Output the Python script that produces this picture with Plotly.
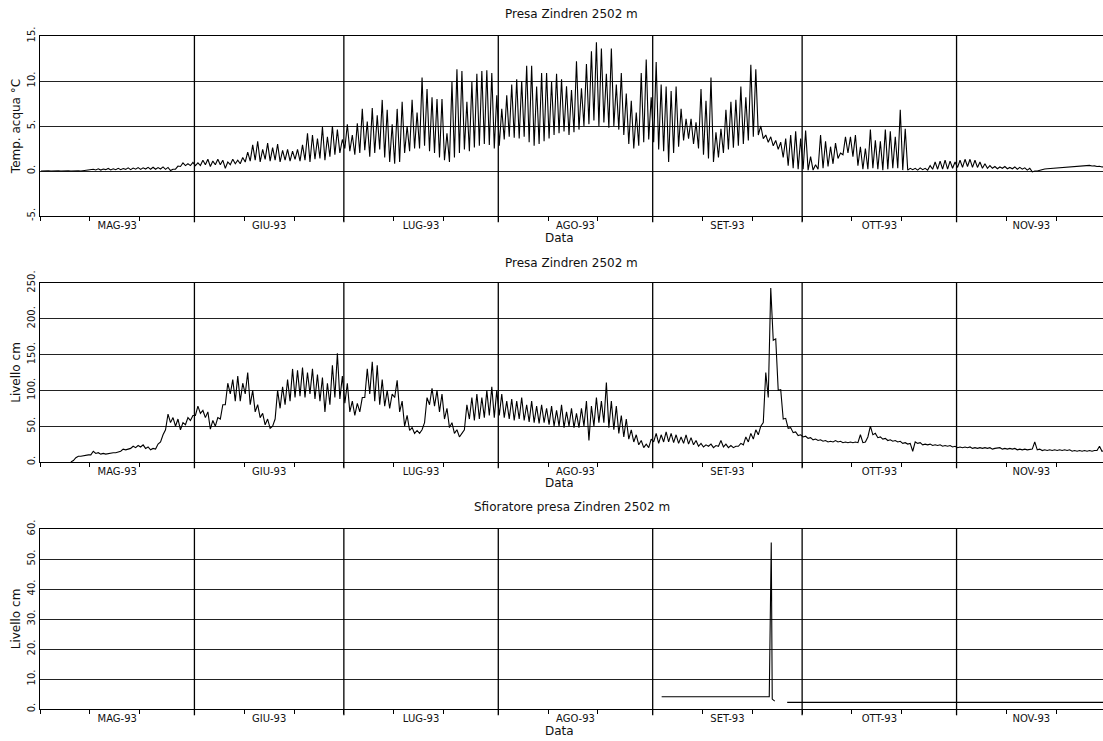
import plotly.graph_objects as go
from datetime import datetime, timedelta

# ---------------- data ----------------
start_date = "1993-05-01"
month_starts = ["1993-05-01", "1993-06-01", "1993-07-01", "1993-08-01",
                "1993-09-01", "1993-10-01", "1993-11-01", "1993-12-01"]
month_labels = ["MAG-93", "GIU-93", "LUG-93", "AGO-93", "SET-93", "OTT-93", "NOV-93"]

# Water temperature (°C): daily maximum and minimum, one value per day from 1 May
temp_max = [
    0.03, 0.03, 0.03, 0.03, 0.03, 0.03, 0.03, 0.03, 0.04, 0.05,
    0.20, 0.25, 0.22, 0.28, 0.25, 0.30, 0.28, 0.35, 0.32, 0.38,
    0.35, 0.40, 0.42, 0.38, 0.45, 0.40, 0.20, 0.55, 0.90, 0.80,
    0.95, 0.90, 1.20, 1.30, 1.10, 1.30, 1.20, 1.00, 1.30, 1.20,
    1.50, 2.10, 2.90, 3.30, 2.40, 3.10, 2.60, 3.00, 2.30, 2.40,
    2.20, 2.40, 2.90, 4.20, 4.00, 3.60, 4.90, 3.80, 5.00, 4.60,
    3.50, 5.20, 4.00, 5.30, 6.90, 5.50, 7.00, 6.20, 7.90, 6.80,
    5.20, 6.90, 7.70, 5.00, 7.90, 6.50, 10.4, 9.1, 8.2, 8.0,
    8.0, 4.2, 9.9, 11.3, 11.1, 7.7, 9.9, 10.8, 11.1, 11.2,
    10.9, 8.4, 6.9, 8.4, 9.6, 10.2, 10.0, 11.7, 11.7, 9.4,
    10.9, 10.9, 9.9, 10.8, 10.2, 9.4, 9.0, 12.2, 9.2, 11.9,
    13.3, 14.3, 13.6, 10.8, 13.6, 9.6, 10.9, 8.6, 7.8, 6.5,
    10.9, 12.4, 8.2, 12.1, 9.6, 9.4, 8.9, 9.4, 6.9, 5.8,
    5.8, 5.4, 9.1, 7.8, 10.4, 4.3, 4.7, 6.8, 7.7, 7.9,
    9.4, 8.2, 11.8, 11.3, 5.0, 4.0, 3.8, 3.4, 3.2, 3.6,
    4.0, 4.4, 3.6, 4.5, 1.6, 0.7, 4.0, 3.3, 2.7, 3.1,
    2.0, 3.8, 3.8, 4.0, 2.7, 2.5, 4.6, 3.4, 3.3, 4.6,
    4.4, 3.8, 6.8, 4.7, 0.3, 0.3, 0.35, 0.3, 0.6, 1.0,
    1.1, 1.2, 1.1, 1.0, 1.2, 1.3, 1.3, 1.2, 1.0, 0.8,
    0.6, 0.5, 0.45, 0.5, 0.4, 0.45, 0.4, 0.35, 0.3, 0.0,
    0.1, 0.22, 0.27, 0.32, 0.37, 0.42, 0.47, 0.52, 0.57, 0.57,
    0.62, 0.57, 0.52, 0.47,
]
temp_min = [
    0.0, 0.0, 0.0, 0.0, 0.0, 0.0, 0.0, 0.0, 0.0, 0.0,
    0.10, 0.12, 0.10, 0.15, 0.12, 0.15, 0.15, 0.18, 0.15, 0.20,
    0.18, 0.22, 0.20, 0.20, 0.22, 0.18, 0.05, 0.20, 0.50, 0.60,
    0.60, 0.60, 0.60, 0.70, 0.50, 0.70, 0.70, 0.30, 0.70, 0.80,
    0.80, 1.00, 1.10, 1.20, 1.00, 1.30, 1.10, 1.20, 1.00, 1.20,
    1.10, 1.30, 1.10, 1.20, 1.00, 1.30, 1.40, 1.20, 1.60, 1.80,
    2.00, 2.50, 2.20, 1.80, 2.00, 2.30, 1.60, 2.00, 2.40, 1.50,
    1.00, 0.80, 1.00, 2.00, 2.20, 2.50, 2.5, 2.8, 2.2, 2.0,
    1.5, 1.2, 1.0, 1.5, 2.0, 2.4, 2.2, 2.6, 2.8, 3.0,
    2.9, 2.5, 2.8, 3.5, 3.8, 3.7, 3.6, 3.8, 3.2, 2.8,
    3.0, 3.3, 3.6, 4.0, 4.2, 4.4, 4.0, 4.3, 4.6, 5.0,
    5.2, 5.6, 5.0, 5.4, 4.8, 5.0, 4.6, 4.0, 3.0, 2.5,
    2.8, 3.2, 3.5, 3.2, 2.4, 2.2, 1.0, 2.0, 2.7, 3.4,
    3.6, 3.0, 2.5, 1.8, 1.4, 1.0, 1.5, 2.0, 2.4, 2.6,
    2.8, 3.0, 3.4, 3.8, 4.0, 3.6, 3.2, 2.8, 2.4, 1.5,
    0.6, 0.3, 0.2, 0.2, 0.1, 0.1, 0.2, 0.3, 0.5, 0.8,
    1.4, 1.8, 2.0, 1.6, 0.6, 0.2, 0.2, 0.3, 0.2, 0.1,
    0.2, 0.3, 0.3, 0.1, 0.1, 0.15, 0.1, 0.15, 0.1, 0.2,
    0.2, 0.2, 0.2, 0.3, 0.4, 0.4, 0.5, 0.4, 0.4, 0.3,
    0.3, 0.3, 0.25, 0.3, 0.25, 0.25, 0.2, 0.2, 0.1, -0.1,
    0.0, 0.2, 0.25, 0.3, 0.35, 0.4, 0.45, 0.5, 0.55, 0.55,
    0.6, 0.55, 0.5, 0.45,
]

# Water level at the intake (cm): daily maximum and minimum (no record for the first days)
level_max = [
    None, None, None, None, None, None, 2, 8, 9, 10,
    15, 13, 12, 12, 13, 14, 18, 18, 22, 23,
    24, 21, 19, 25, 38, 67, 62, 60, 55, 62,
    65, 78, 72, 70, 58, 62, 80, 110, 115, 120,
    110, 125, 100, 80, 68, 60, 50, 100, 105, 115,
    130, 128, 132, 125, 130, 122, 118, 110, 135, 152,
    120, 110, 85, 82, 90, 130, 140, 135, 115, 100,
    95, 114, 85, 65, 48, 44, 45, 90, 103, 100,
    95, 75, 55, 45, 40, 80, 90, 95, 90, 100,
    105, 100, 95, 85, 88, 85, 90, 80, 85, 78,
    80, 75, 78, 72, 80, 70, 75, 68, 75, 85,
    78, 90, 85, 111, 85, 78, 65, 60, 45, 38,
    30, 25, 32, 40, 38, 42, 40, 38, 35, 38,
    34, 30, 26, 24, 25, 23, 30, 25, 23, 22,
    26, 35, 40, 45, 50, 125, 243, 172, 101, 61,
    48, 42, 38, 36, 34, 32, 31, 30, 29, 30,
    29, 28, 28, 28, 38, 28, 50, 40, 35, 33,
    31, 30, 29, 27, 26, 28, 27, 25, 25, 24,
    24, 23, 23, 22, 21, 21, 21, 20, 20, 20,
    20, 19, 20, 19, 19, 19, 18, 18, 18, 28,
    18, 17, 17, 17, 17, 17, 17, 16, 16, 16,
    16, 16, 22, 16,
]
level_min = [
    None, None, None, None, None, None, 0, 6, 8, 9,
    10, 12, 11, 11, 12, 13, 15, 17, 19, 20,
    21, 19, 17, 18, 28, 45, 55, 50, 45, 52,
    58, 65, 68, 62, 46, 50, 60, 80, 95, 85,
    85, 95, 80, 70, 62, 52, 47, 60, 75, 80,
    85, 90, 92, 90, 95, 88, 85, 70, 80, 90,
    88, 82, 70, 65, 70, 90, 95, 85, 80, 78,
    75, 90, 70, 50, 44, 40, 40, 55, 80, 78,
    70, 60, 48, 40, 35, 45, 60, 58, 60, 62,
    65, 62, 65, 62, 60, 58, 60, 58, 56, 55,
    54, 55, 52, 50, 50, 48, 50, 48, 48, 50,
    30, 50, 55, 55, 48, 45, 40, 35, 32, 28,
    24, 20, 20, 28, 26, 28, 28, 27, 26, 26,
    25, 24, 22, 21, 22, 20, 22, 21, 20, 20,
    22, 24, 28, 32, 38, 55, 90, 170, 100, 60,
    47, 41, 37, 35, 33, 31, 30, 29, 28, 28,
    28, 27, 27, 27, 27, 27, 35, 38, 34, 32,
    30, 29, 28, 26, 25, 15, 26, 24, 24, 23,
    23, 22, 22, 21, 20, 20, 20, 19, 19, 19,
    19, 18, 19, 18, 18, 18, 17, 17, 17, 18,
    17, 16, 16, 16, 16, 16, 16, 15, 15, 15,
    15, 15, 16, 15,
]

# Spillway level (cm): (day since 1 May, value); None marks a gap in the record
spill_day = [124.8, 146.4, 146.8, 147.0, 147.5, None, 150.0, 213.5]
spill_val = [4.1, 4.1, 55.5, 3.3, 2.6, None, 2.2, 2.2]

temp_ticks = [-5, 0, 5, 10, 15]
level_ticks = [0, 50, 100, 150, 200, 250]
spill_ticks = [0, 10, 20, 30, 40, 50, 60]

# ---------------- helpers ----------------
base = datetime.strptime(start_date, "%Y-%m-%d")


def to_date(d):
    return None if d is None else base + timedelta(days=d)


def zigzag(vmax, vmin):
    xs, ys = [], []
    for i, (hi, lo) in enumerate(zip(vmax, vmin)):
        if hi is None or lo is None:
            continue
        xs += [to_date(i + 0.2), to_date(i + 0.7)]
        ys += [lo, hi]
    return xs, ys


tx, ty = zigzag(temp_max, temp_min)
lx, ly = zigzag(level_max, level_min)
sx = [to_date(d) for d in spill_day]

ms = [datetime.strptime(m, "%Y-%m-%d") for m in month_starts]
mid_month = [a + (b - a) / 2 for a, b in zip(ms[:-1], ms[1:])]
minor_ticks = []
for m in ms[:-1]:
    for dd in (0, 10, 20):
        minor_ticks.append(m + timedelta(days=dd))

FONT = "DejaVu Sans"
INK = "#111111"
H = 741.0

fig = go.Figure()
line_style = dict(color="black", width=1.1)
fig.add_trace(go.Scatter(x=tx, y=ty, mode="lines", line=line_style, xaxis="x", yaxis="y",
                         showlegend=False))
fig.add_trace(go.Scatter(x=lx, y=ly, mode="lines", line=line_style, xaxis="x2", yaxis="y2",
                         showlegend=False))
fig.add_trace(go.Scatter(x=sx, y=spill_val, mode="lines", line=line_style, xaxis="x3", yaxis="y3",
                         showlegend=False, connectgaps=False))

x_range = [base, base + timedelta(days=213.4)]


def xaxis_cfg(anchor):
    return dict(
        anchor=anchor, domain=[0, 1], type="date", range=x_range, automargin=False,
        tickmode="array", tickvals=mid_month, ticktext=month_labels, ticks="",
        tickfont=dict(family=FONT, size=10, color=INK),
        showgrid=False, zeroline=False,
        showline=True, linecolor="black", linewidth=1, mirror=True,
        minor=dict(tickmode="array", tickvals=minor_ticks, ticks="outside",
                   ticklen=4, tickcolor="black", tickwidth=1, showgrid=False),
    )


def yaxis_cfg(anchor, top_px, bottom_px, rng, ticks, title):
    return dict(
        anchor=anchor, domain=[1 - bottom_px / H, 1 - top_px / H], range=rng, automargin=False,
        tickmode="array", tickvals=ticks, ticktext=[f"{t}." for t in ticks],
        tickangle=-90, ticks="", tickfont=dict(family=FONT, size=10, color=INK),
        showgrid=True, gridcolor="#222222", gridwidth=1, zeroline=False,
        showline=True, linecolor="black", linewidth=1,
        title=dict(text=title, font=dict(family=FONT, size=12, color=INK), standoff=2),
    )


layout = dict(
    width=1103, height=741,
    margin=dict(l=40, r=0, t=0, b=0, autoexpand=False),
    paper_bgcolor="white", plot_bgcolor="white",
    xaxis=xaxis_cfg("y"), xaxis2=xaxis_cfg("y2"), xaxis3=xaxis_cfg("y3"),
    yaxis=yaxis_cfg("x", 36, 216, [-5, 15], temp_ticks, "Temp. acqua °C"),
    yaxis2=yaxis_cfg("x2", 283, 462, [0, 250], level_ticks, "Livello cm"),
    yaxis3=yaxis_cfg("x3", 529, 709, [0, 60], spill_ticks, "Livello cm"),
)
fig.update_layout(**layout)

# month separators
shapes = []
for xr, yr in (("x", "y domain"), ("x2", "y2 domain"), ("x3", "y3 domain")):
    for m in ms[1:-1]:
        shapes.append(dict(type="line", xref=xr, yref=yr, x0=m, x1=m, y0=-0.035, y1=1,
                           line=dict(color="black", width=1.3), layer="above"))
fig.update_layout(shapes=shapes)

titles = [("Presa Zindren 2502 m", 14), ("Presa Zindren 2502 m", 263),
          ("Sfioratore presa Zindren 2502 m", 507)]
for text, ypx in titles:
    fig.add_annotation(text=text, xref="paper", yref="paper", x=0.5, y=1 - ypx / H,
                       showarrow=False, font=dict(family=FONT, size=12, color=INK),
                       xanchor="center", yanchor="middle")
for ypx in (238, 483, 731):
    fig.add_annotation(text="Data", xref="paper", yref="paper", x=0.489, y=1 - ypx / H,
                       showarrow=False, font=dict(family=FONT, size=12, color=INK),
                       xanchor="center", yanchor="middle")

fig.write_html(
    "out.html",
    config={"displayModeBar": False},
    post_script="document.body.style.margin='0';document.body.style.overflow='hidden';",
)
